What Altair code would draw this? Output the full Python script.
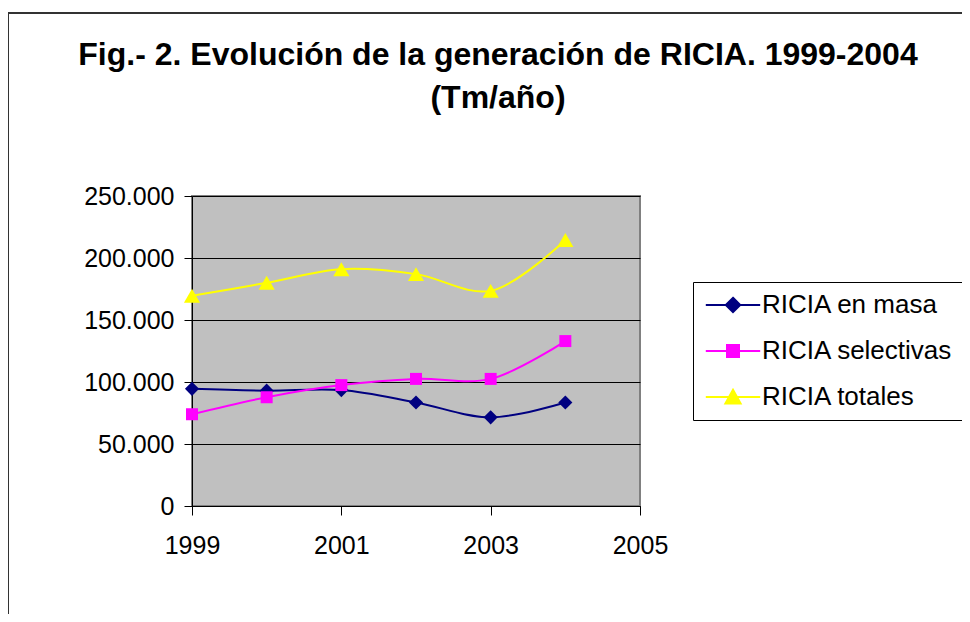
import altair as alt
import pandas as pd

years = [1999, 2000, 2001, 2002, 2003, 2004]
series_names = ["RICIA en masa", "RICIA selectivas", "RICIA totales"]
masa = [94500, 93000, 93500, 83500, 71500, 83500]
selectivas = [74000, 87700, 97500, 102500, 102500, 133000]
totales = [169500, 180000, 191000, 187000, 173500, 214500]
colors = ["#000080", "#FF00FF", "#FFFF00"]
point_shapes = ["diamond", "square", "triangle-up"]
point_sizes = [200, 144, 260]
y_ticks = [0, 50000, 100000, 150000, 200000, 250000]
x_ticks = [1999, 2001, 2003, 2005]
title_lines = ["Fig.- 2. Evolución de la generación de RICIA. 1999-2004", "(Tm/año)"]

legend_paths = [
    "M-3.4,0H3.4M0,-0.9L0.9,0L0,0.9L-0.9,0Z",
    "M-3.4,0H3.4M-0.75,-0.75H0.75V0.75H-0.75Z",
    "M-3.4,0H3.4M0,-0.9L0.95,0.8H-0.95Z",
]

rows = []
for name, vals in zip(series_names, [masa, selectivas, totales]):
    for yr, v in zip(years, vals):
        rows.append({"Año": yr, "Tm": v, "Serie": name})
df = pd.DataFrame(rows)

FONT = "Liberation Sans"

shape_expr = (
    f"datum.value === '{series_names[0]}' ? '{legend_paths[0]}' : "
    f"(datum.value === '{series_names[1]}' ? '{legend_paths[1]}' : '{legend_paths[2]}')"
)
color_expr = "scale('color', datum.value)"

x_enc = alt.X(
    "Año:Q",
    scale=alt.Scale(domain=[1999, 2005], nice=False, zero=False),
    axis=alt.Axis(values=x_ticks, format="d", title=None, grid=False,
                  tickSize=9, labelPadding=18, labelFlush=False),
)
y_enc = alt.Y(
    "Tm:Q",
    scale=alt.Scale(domain=[0, 250000], nice=False),
    axis=alt.Axis(values=y_ticks, title=None, grid=True, gridColor="black",
                  gridWidth=1, gridOpacity=1, tickSize=8, labelPadding=10,
                  labelExpr="replace(format(datum.value, ','), ',', '.')"),
)
color_scale = alt.Scale(domain=series_names, range=colors)
legend = alt.Legend(
    title=None, orient="none", legendX=501, legendY=86, direction="vertical",
    strokeColor="black", fillColor="white", padding=10,
    symbolSize=256, symbolOffset=17, labelOffset=16, symbolStrokeWidth=2,
    symbolType={"expr": shape_expr},
    symbolFillColor={"expr": color_expr},
    symbolStrokeColor={"expr": color_expr},
    symbolOpacity=1, labelLimit=400,
    labelFont=FONT, labelFontSize=26, labelColor="black", rowPadding=20,
)

frame = alt.Chart(alt.Data(values=[{}])).mark_rect(
    fill="transparent", stroke="#333333", strokeWidth=2
).encode(
    x=alt.value(-184), x2=alt.value(775), y=alt.value(-183), y2=alt.value(450)
)

lines = alt.Chart(df).mark_line(interpolate="catmull-rom", strokeWidth=2).encode(
    x=x_enc, y=y_enc, color=alt.Color("Serie:N", scale=color_scale, legend=legend), detail="Serie:N"
)

point_layers = []
for name, shp, sz in zip(series_names, point_shapes, point_sizes):
    point_layers.append(
        alt.Chart(df).transform_filter(alt.datum.Serie == name)
        .mark_point(filled=True, opacity=1, shape=shp, size=sz)
        .encode(x=x_enc, y=y_enc,
                color=alt.Color("Serie:N", scale=color_scale, legend=None))
    )

chart = alt.layer(frame, lines, *point_layers).properties(
    width=448, height=310,
    autosize=alt.AutoSizeParams(type="none"),
    padding={"left": 184, "top": 188, "right": 322, "bottom": 108},
    title=alt.Title(title_lines, fontSize=32, font=FONT, fontWeight="bold", color="black",
                    anchor="middle", dx=82, offset=-103, lineHeight=43),
    background="white",
).configure_view(
    fill="#C0C0C0", stroke="#808080", strokeWidth=2
).configure_axis(
    domainColor="black", tickColor="black", labelColor="black",
    labelFont=FONT, labelFontSize=25, domainWidth=1, tickWidth=1
)

chart.save("out.html", embed_options={"renderer": "svg", "actions": False})
